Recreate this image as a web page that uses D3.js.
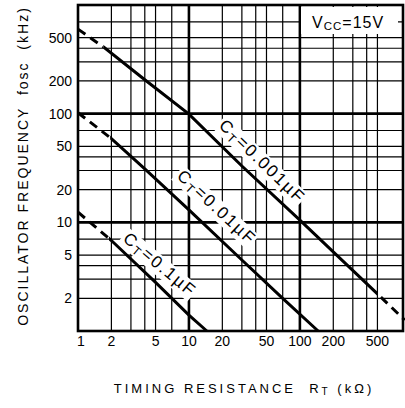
<!DOCTYPE html>
<html><head><meta charset="utf-8">
<script src="https://cdn.jsdelivr.net/npm/d3@7"></script>
<style>html,body{margin:0;padding:0;background:#fff;}svg{display:block;}</style>
</head><body>
<script>
// ---- data ----
const xTickLabels = [1, 2, 5, 10, 20, 50, 100, 200, 500];
const yTickLabels = [2, 5, 10, 20, 50, 100, 200, 500];
const xGrid = [2, 3, 4, 5, 7, 10, 20, 30, 40, 50, 70, 100, 200, 300, 400, 500];
const yGrid = [2, 3, 4, 5, 7, 10, 20, 30, 40, 50, 70, 100, 200, 300, 400, 500, 700];
const thickGrid = [10, 100];
// curve C_T = 0.001 uF
const r001 = [1, 1.7, 4, 10, 30, 100, 250, 500, 880];
const f001 = [600, 410, 205, 99, 33, 10.5, 4.3, 2.2, 1.26];
// curve C_T = 0.01 uF
const r01 = [1, 2, 4, 10, 30, 70, 146];
const f01 = [102, 59, 31, 13, 4.5, 2.0, 1];
// curve C_T = 0.1 uF
const r1 = [1, 2, 5, 10, 14.5];
const f1 = [12.4, 6.8, 2.8, 1.4, 1];
const curveNames = ["0.001", "0.01", "0.1"];
const dashBelow = [1.7, 1.95, 1.9];   // dashed for R below this
const dashAbove = [500, null, null];  // dashed for R above this
const labelAt = [[46, 36.5], [17.9, 13.8], [5.5, 4.1]];
const labelAngle = [44, 43, 40];

const W = 405, H = 408;
const fnt = "Liberation Sans, Arial, Helvetica, sans-serif";
const svg = d3.select("body").append("svg").attr("width", W).attr("height", H);
const x = d3.scaleLog().domain([1, 850]).range([78, 403]);
const y = d3.scaleLog().domain([1, 1000]).range([331, 5]);
const [x0, x1] = x.range(), [y0, y1] = y.range();

const g = svg.append("g");
// grid
g.selectAll("line.vx").data(xGrid).join("line")
  .attr("x1", d => x(d)).attr("x2", d => x(d)).attr("y1", y1).attr("y2", y0)
  .attr("stroke", "#000").attr("stroke-width", d => thickGrid.includes(d) ? 2.6 : 1.2);
g.selectAll("line.hy").data(yGrid).join("line")
  .attr("y1", d => y(d)).attr("y2", d => y(d)).attr("x1", x0).attr("x2", x1)
  .attr("stroke", "#000").attr("stroke-width", d => thickGrid.includes(d) ? 2.6 : 1.2);

// Vcc box
const vb = svg.append("g");
vb.append("rect").attr("x", 301).attr("y", 7).attr("width", 97).attr("height", 27).attr("fill", "#fff");
const vt = vb.append("text").attr("x", 312).attr("y", 28)
  .attr("font-family", fnt).attr("font-size", 16).attr("letter-spacing", 1).attr("fill", "#000");
vt.append("tspan").text("V");
vt.append("tspan").attr("font-size", 11.5).attr("dy", 2).text("CC");
vt.append("tspan").attr("dy", -2).text("=15V");

// frame
svg.append("rect").attr("x", x0).attr("y", y1).attr("width", x1 - x0).attr("height", y0 - y1)
  .attr("fill", "none").attr("stroke", "#000").attr("stroke-width", 2.6);

// curves
const curves = [[r001, f001], [r01, f01], [r1, f1]];
const defs = svg.append("defs");
const clipG = svg.append("g");
const line = d3.line().x(d => x(d[0])).y(d => y(d[1]));
curves.forEach((c, i) => {
  const pts = c[0].map((r, k) => [r, c[1][k]]);
  const a = x(dashBelow[i]);
  const b = dashAbove[i] ? x(dashAbove[i]) : x1 + 10;
  defs.append("clipPath").attr("id", "solid" + i).append("rect")
    .attr("x", a).attr("y", 0).attr("width", b - a).attr("height", H);
  const dc = defs.append("clipPath").attr("id", "dash" + i);
  dc.append("rect").attr("x", 0).attr("y", 0).attr("width", a).attr("height", H);
  if (dashAbove[i]) dc.append("rect").attr("x", b).attr("y", 0).attr("width", W - b).attr("height", H);
  clipG.append("path").datum(pts).attr("d", line).attr("fill", "none").attr("stroke", "#000")
    .attr("stroke-width", 3).attr("clip-path", `url(#solid${i})`);
  clipG.append("path").datum(pts).attr("d", line).attr("fill", "none").attr("stroke", "#000")
    .attr("stroke-width", 3).attr("stroke-dasharray", "9,6").attr("clip-path", `url(#dash${i})`);
});

// curve labels
curveNames.forEach((nm, i) => {
  const lg = svg.append("g").attr("transform",
    `translate(${x(labelAt[i][0])},${y(labelAt[i][1])}) rotate(${labelAngle[i]})`);
  const t = lg.append("text").attr("text-anchor", "middle").attr("y", 6)
    .attr("font-family", fnt).attr("font-size", 17)
    .attr("letter-spacing", 2).attr("fill", "#000");
  t.append("tspan").text("C");
  t.append("tspan").attr("font-size", 12).attr("dy", 3).text("T");
  t.append("tspan").attr("dy", -3).text("=" + nm + "µF");
  const bb = t.node().getBBox();
  lg.insert("rect", "text").attr("x", bb.x - 2).attr("y", bb.y + 1).attr("width", bb.width + 2)
    .attr("height", bb.height - 2).attr("fill", "#fff");
});

// tick labels
svg.selectAll("text.xt").data(xTickLabels).join("text")
  .attr("x", d => x(d) + (d === 1 ? 3 : 0)).attr("y", 346).attr("text-anchor", "middle")
  .attr("font-family", fnt).attr("font-size", 14).attr("fill", "#000").text(d => d);
svg.selectAll("text.yt").data(yTickLabels).join("text")
  .attr("x", 72).attr("y", d => y(d) + 5).attr("text-anchor", "end")
  .attr("font-family", fnt).attr("font-size", 14).attr("fill", "#000").text(d => d);

// axis titles
const xt = svg.append("text").attr("x", 244).attr("y", 393).attr("text-anchor", "middle")
  .attr("font-family", fnt).attr("font-size", 13).attr("letter-spacing", 3).attr("fill", "#000")
  .style("white-space", "pre");
xt.append("tspan").text("TIMING RESISTANCE  R");
xt.append("tspan").attr("font-size", 10).attr("dy", 2).text("T");
xt.append("tspan").attr("dy", -2).text(" (kΩ)");

svg.append("text").attr("transform", "translate(28,166) rotate(-90)").attr("text-anchor", "middle")
  .attr("font-family", fnt).attr("font-size", 14).attr("letter-spacing", 2).attr("fill", "#000")
  .style("white-space", "pre").text("OSCILLATOR FREQUENCY  fosc  (kHz)");
</script>
</body></html>
